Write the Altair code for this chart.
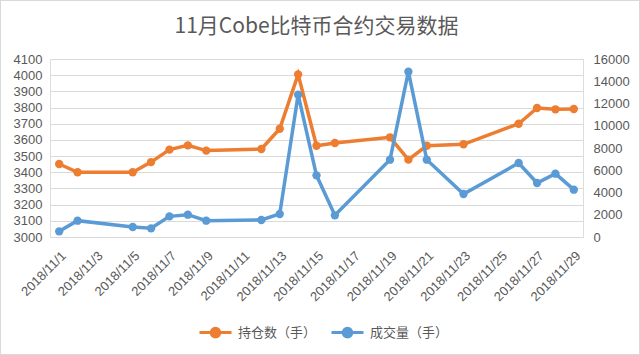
import altair as alt
import pandas as pd

dates = ["2018-11-01", "2018-11-02", "2018-11-05", "2018-11-06", "2018-11-07",
         "2018-11-08", "2018-11-09", "2018-11-12", "2018-11-13", "2018-11-14",
         "2018-11-15", "2018-11-16", "2018-11-19", "2018-11-20", "2018-11-21",
         "2018-11-23", "2018-11-26", "2018-11-27", "2018-11-28", "2018-11-29"]
open_interest = [3451, 3400, 3400, 3463, 3540, 3566, 3534, 3544, 3669, 4005,
                 3564, 3581, 3616, 3478, 3564, 3573, 3700, 3797, 3789, 3791]
volume = [509, 1468, 899, 779, 1857, 2007, 1468, 1528, 2067, 12793,
          5543, 1947, 6951, 14860, 6951, 3865, 6651, 4854, 5692, 4254]
series_names = ["持仓数（手）", "成交量（手）"]
series_colors = ["#ED7D31", "#5B9BD5"]
tick_days = list(range(1, 30, 2))
left_ticks = list(range(3000, 4101, 100))
right_ticks = list(range(0, 16001, 2000))

df = pd.DataFrame({"date": dates, "oi": open_interest, "vol": volume})

TEXT = "#595959"
GRID = "#D9D9D9"
LATIN = "Liberation Sans"
CJK = "Noto Sans CJK SC"

x_enc = alt.X(
    "date:T",
    scale=alt.Scale(type="utc", domain=[
        alt.DateTime(year=2018, month=10, date=31, hours=12, utc=True),
        alt.DateTime(year=2018, month=11, date=29, hours=12, utc=True)]),
    axis=alt.Axis(
        values=[alt.DateTime(year=2018, month=11, date=d, utc=True) for d in tick_days],
        labelExpr="utcFormat(datum.value, '%Y/%-m/%-d')",
        labelAngle=-45, labelAlign="right", labelBaseline="top",
        grid=False, ticks=False, title=None,
        domainColor=GRID, domainWidth=1, labelColor=TEXT, labelFont=LATIN,
        labelFontSize=13, labelPadding=12, labelOverlap=False),
)

color_scale = alt.Scale(domain=series_names, range=series_colors)
legend = alt.Legend(
    title=None, orient="none", legendX=148, legendY=256, direction="horizontal",
    symbolType="M-1,0L1,0M-0.27,0A0.27,0.27,0,1,0,0.27,0A0.27,0.27,0,1,0,-0.27,0Z",
    symbolSize=1024, symbolStrokeWidth=3, labelFont=CJK, labelFontSize=13,
    labelColor=TEXT, columnPadding=8, labelOffset=5,
)


def series_layer(field, name, y_axis):
    base = alt.Chart(df).transform_calculate(series=f"'{name}'")
    y_enc = alt.Y(f"{field}:Q", scale=y_axis[0], axis=y_axis[1])
    line = base.mark_line(strokeWidth=3.5).encode(
        x=x_enc, y=y_enc,
        stroke=alt.Stroke("series:N", scale=color_scale, legend=legend))
    pts = base.mark_point(filled=True, size=70, opacity=1, strokeWidth=0).encode(
        x=x_enc, y=y_enc,
        stroke=alt.Stroke("series:N", scale=color_scale, legend=legend),
        fill=alt.Fill("series:N", scale=color_scale, legend=legend))
    return alt.layer(line, pts)


left = (alt.Scale(domain=[3000, 4100], nice=False, zero=False),
        alt.Axis(values=left_ticks, orient="left", title=None, ticks=False,
                 domain=False, grid=True, gridColor=GRID, gridWidth=1, format="d",
                 labelColor=TEXT, labelFont=LATIN, labelFontSize=13, labelPadding=8))
right = (alt.Scale(domain=[0, 16000], nice=False),
         alt.Axis(values=right_ticks, orient="right", title=None, ticks=False,
                  domain=False, grid=False, format="d", labelColor=TEXT,
                  labelFont=LATIN, labelFontSize=13, labelPadding=10))

oi_layer = series_layer("oi", series_names[0], left)
vol_layer = series_layer("vol", series_names[1], right)

frame = alt.Chart(df).mark_rect(fill=None, stroke="#D9D9D9", strokeWidth=1).encode(
    x=alt.value(-49.5), x2=alt.value(533 + 56.5),
    y=alt.value(-58.5), y2=alt.value(178 + 117.5))

chart = alt.layer(oi_layer, vol_layer).resolve_scale(y="independent")
chart = alt.layer(chart, frame).properties(
    width=533, height=178,
    title=alt.TitleParams("11月Cobe比特币合约交易数据", fontSize=21, font=CJK,
                          color=TEXT, fontWeight="normal", anchor="middle",
                          offset=0, dy=37),
    autosize=alt.AutoSizeParams(type="none"),
    padding={"left": 50, "top": 59, "right": 57, "bottom": 118},
).configure_view(stroke=None).configure(background="white")

chart.save("out.html", embed_options={"renderer": "svg", "actions": False})
